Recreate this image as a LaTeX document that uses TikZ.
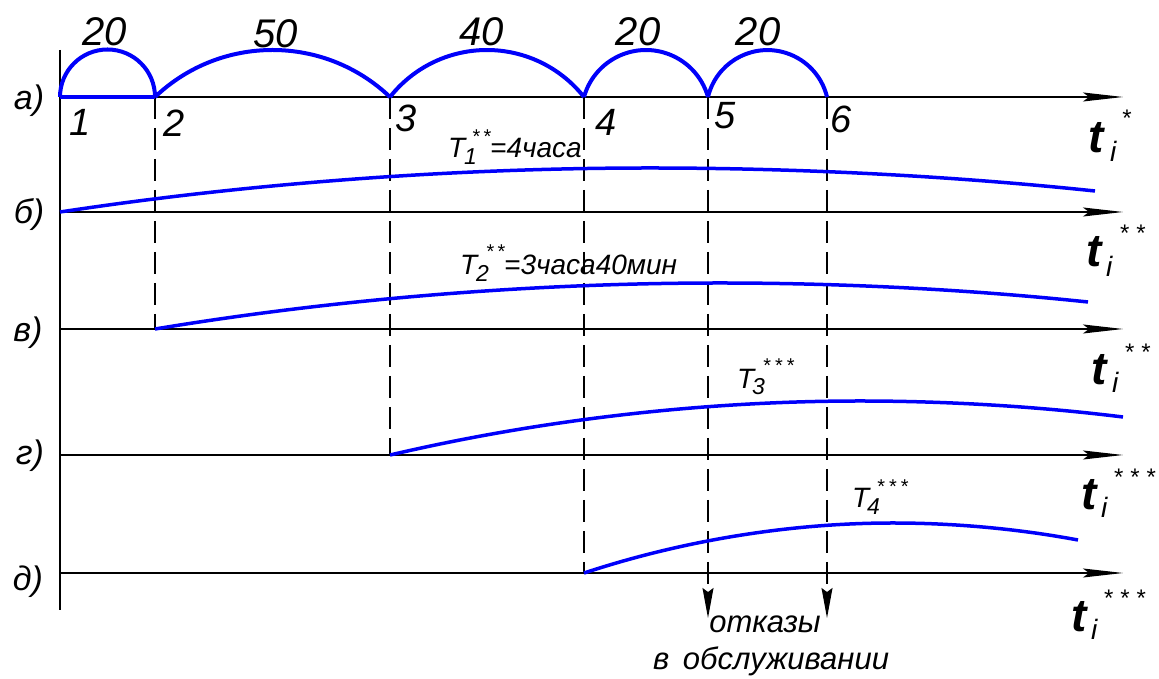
\documentclass[tikz,border=0pt]{standalone}
\usepackage{fontspec}
\setmainfont{Liberation Sans}
\usetikzlibrary{arrows.meta}
\definecolor{CurveBlue}{RGB}{0,0,250}
\tikzset{axis/.style={line width=1.3pt,-{Stealth[length=40pt,width=9pt,inset=6pt]}},
guide/.style={line width=1.2pt,dash pattern=on 22pt off 9pt},
fail/.style={guide,-{Stealth[length=30pt,width=11pt,inset=4pt]}},
curve/.style={draw=CurveBlue,line width=3.5pt},
hop/.style={draw=CurveBlue,line width=4pt},
arcnum/.style={font=\fontsize{40}{40}\selectfont\itshape,inner sep=0pt},
ptnum/.style={font=\fontsize{38}{38}\selectfont\itshape,inner sep=0pt},
rowlab/.style={font=\fontsize{34}{34}\selectfont\itshape,inner sep=0pt},
tlab/.style={font=\fontsize{28}{28}\selectfont\itshape,inner sep=0pt,anchor=base west},
sublab/.style={font=\fontsize{23}{23}\selectfont\itshape,inner sep=0pt,anchor=base west},
starlab/.style={font=\fontsize{20}{20}\selectfont,inner sep=0pt,anchor=base},
bigstar/.style={font=\fontsize{24}{24}\selectfont,inner sep=0pt,anchor=base},
tvar/.style={font=\fontsize{46}{46}\selectfont\bfseries\itshape,inner sep=0pt,anchor=base west},
ivar/.style={font=\fontsize{28}{28}\selectfont\itshape,inner sep=0pt,anchor=base west},
note/.style={font=\fontsize{31}{31}\selectfont\itshape,inner sep=0pt,anchor=base}}

\begin{document}
\begin{tikzpicture}[x=1pt,y=1pt]
\useasboundingbox (0,0) rectangle (1159,679);
% axis a: points 1..6
\coordinate (p1) at (60,582);
\coordinate (p2) at (155,582);
\coordinate (p3) at (390,582);
\coordinate (p4) at (584,582);
\coordinate (p5) at (708,582);
\coordinate (p6) at (827,582);
% left ends of the rows and arrow ends
\coordinate (ra) at (60,582);
\coordinate (rb) at (60,467);
\coordinate (rv) at (60,350);
\coordinate (rg) at (60,224);
\coordinate (rd) at (60,106);
\coordinate (ea) at (1123,582);
\coordinate (eb) at (1123,467);
\coordinate (ev) at (1123,350);
\coordinate (eg) at (1123,224);
\coordinate (ed) at (1123,106);
\coordinate (top) at (60,629);
\coordinate (bot) at (60,69);
\coordinate (f5) at (708,61);
\coordinate (f6) at (827,61);
% axes
\draw[line width=1.5pt] (top) -- (bot);
\draw[axis] (ra) -- (ea);
\draw[axis] (rb) -- (eb);
\draw[axis] (rv) -- (ev);
\draw[axis] (rg) -- (eg);
\draw[axis] (rd) -- (ed);
% dashed guides
\draw[guide] (p2) -- (p2 |- rv);
\draw[guide] (p3) -- (p3 |- rg);
\draw[guide] (p4) -- (p4 |- rd);
\draw[fail] (p5) -- (f5);
\draw[fail] (p6) -- (f6);
% hops on axis a
\draw[hop] (p1) -- (p2);
\draw[hop] (p1) arc[start angle=180,end angle=0,radius=47.5];
\draw[hop] (p2) arc[start angle=133.6,end angle=46.4,radius=170.4];
\draw[hop] (p3) arc[start angle=141.7,end angle=38.3,radius=123.6];
\draw[hop] (p4) arc[start angle=164.3,end angle=15.7,radius=64.4];
\draw[hop] (p5) arc[start angle=166.5,end angle=13.5,radius=61.2];
% service curves
\draw[curve] (rb) parabola bend (650,511) (1095,488);
\draw[curve] (p2 |- rv) parabola bend (720,396) (1088,377);
\draw[curve] (p3 |- rg) parabola bend (860,278) (1123,262);
\draw[curve] (p4 |- rd) parabola bend (893,156) (1078,139);
% labels
\node[arcnum] (n12) at (105,647) {20};
\node[arcnum] (n23) at (276,645) {50};
\node[arcnum] (n34) at (482,647) {40};
\node[arcnum] (n45) at (638,647) {20};
\node[arcnum] (n56) at (758,647) {20};
\node[ptnum] (l1) at (80,557) {1};
\node[ptnum] (l2) at (174,556) {2};
\node[ptnum] (l3) at (406,561) {3};
\node[ptnum] (l4) at (606,557) {4};
\node[ptnum] (l5) at (725,563) {5};
\node[ptnum] (l6) at (841,560) {6};
\node[rowlab] (la) at (29,578) {а)};
\node[rowlab] (lb) at (29,464) {б)};
\node[rowlab] (lv) at (28,346) {в)};
\node[rowlab] (lg) at (30,223) {г)};
\node[rowlab] (ld) at (28,97) {д)};
% T labels
\node[tlab] (T1) at (448,521) {T};
\node[sublab] (T1s) at (464,514) {1};
\node[starlab] (T1st) at (482,535) {*\kern3pt*};
\node[tlab] (T1r) at (490,521) {=4часа};
\node[tlab] (T2) at (460,404) {T};
\node[sublab] (T2s) at (476,397) {2};
\node[starlab] (T2st) at (496,420) {*\kern3pt*};
\node[tlab] (T2r) at (504,404) {=3часа40мин};
\node[tlab] (T3) at (737,290) {T};
\node[sublab] (T3s) at (752,284) {3};
\node[starlab] (T3st) at (779,306) {*\kern4pt*\kern4pt*};
\node[tlab] (T4) at (852,171) {T};
\node[sublab] (T4s) at (867,164) {4};
\node[starlab] (T4st) at (893,185) {*\kern4pt*\kern4pt*};
% time variables
\node[tvar] (t1) at (1088,526) {t};
\node[ivar] (i1) at (1110,517) {i};
\node[bigstar] (s1) at (1127,552) {*};
\node[tvar] (t2) at (1086,412) {t};
\node[ivar] (i2) at (1106,402) {i};
\node[bigstar] (s2) at (1133,437) {*\kern7pt*};
\node[tvar] (t3) at (1091,294) {t};
\node[ivar] (i3) at (1112,286) {i};
\node[bigstar] (s3) at (1138,318) {*\kern7pt*};
\node[tvar] (t4) at (1081,169) {t};
\node[ivar] (i4) at (1101,161) {i};
\node[bigstar] (s4) at (1135,193) {*\kern7pt*\kern7pt*};
\node[tvar] (t5) at (1071,47) {t};
\node[ivar] (i5) at (1091,39) {i};
\node[bigstar] (s5) at (1125,72) {*\kern7pt*\kern7pt*};
% failures
\node[note] (fl) at (765,46) {отказы};
\node[note] (fs) at (771,9) {в\, обслуживании};
\end{tikzpicture}
\end{document}
